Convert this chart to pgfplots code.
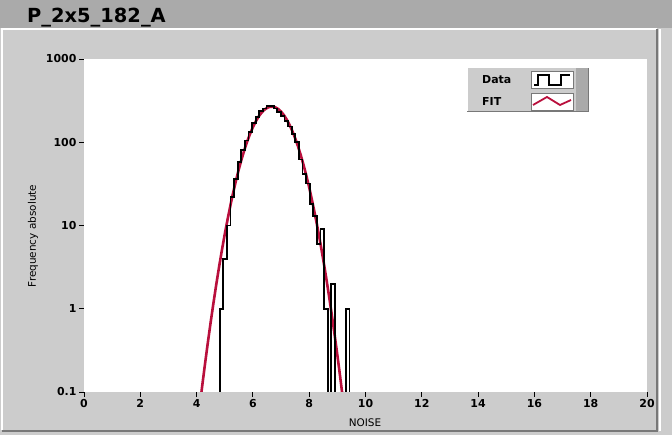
\documentclass[border=0pt]{standalone}
\usepackage{fontspec}
\setmainfont{DejaVu Sans}
\usepackage{pgfplots}
\pgfplotsset{compat=1.18}
\definecolor{panelgray}{RGB}{204,204,204}
\definecolor{bargray}{RGB}{170,170,170}
\definecolor{fitred}{RGB}{185,15,60}
\definecolor{darkedge}{RGB}{120,120,120}
\begin{document}
\begin{tikzpicture}[x=1bp,y=1bp]
\useasboundingbox (0,0) rectangle (672,435);
\fill[panelgray] (0,0) rectangle (672,435);
\fill[bargray] (0,407) rectangle (672,435);
\node[anchor=base west, inner sep=0pt, font=\fontsize{19.5}{20}\selectfont\bfseries] at (27,412) {P\_2x5\_182\_A};
% panel edges
\draw[white, line width=1.5bp] (2,5) -- (2,406) -- (657,406);
\draw[darkedge, line width=1.5bp] (2,4) -- (657,4) -- (657,406);
\draw[white, line width=1.2bp] (660,4) -- (660,406);
\begin{axis}[
  at={(84bp,43bp)}, anchor=south west,
  width=563bp, height=333bp, scale only axis,
  xmin=0, xmax=20, ymin=0.1, ymax=1000, ymode=log,
  axis background/.style={fill=white},
  axis line style={draw=none},
  tick pos=left, tick align=outside,
  major tick length=5bp,
  every tick/.style={black, line width=0.9bp},
  minor tick num=0,
  xtick={0,2,4,6,8,10,12,14,16,18,20},
  xticklabels={0,2,4,6,8,10,12,14,16,18,20},
  ytick={0.1,1,10,100,1000},
  yticklabels={0.1,1,10,100,1000},
  yminorticks=false,
  /pgf/number format/assume math mode=true,
  tick label style={font=\fontsize{11}{11}\selectfont\bfseries},
  xticklabel style={yshift=1bp},
  yticklabel style={xshift=1bp},
  clip=true,
]
\addplot[fitred, line width=2.6bp, no markers] coordinates {
(4.1,0.0627)(4.2,0.119)(4.3,0.219)(4.4,0.394)(4.5,0.691)(4.6,1.18)(4.7,1.97)(4.8,3.21)(4.9,5.08)(5.0,7.86)(5.1,11.8)(5.2,17.4)(5.3,24.9)(5.4,34.8)(5.5,47.4)(5.6,62.9)(5.7,81.4)(5.8,102.8)(5.9,126.5)(6.0,151.8)(6.1,177.6)(6.2,202.6)(6.3,225.4)(6.4,244.4)(6.5,258.4)(6.6,266.3)(6.7,267.7)(6.8,262.3)(6.9,250.6)(7.0,233.5)(7.1,212.1)(7.2,187.8)(7.3,162.2)(7.4,136.5)(7.5,112.1)(7.6,89.7)(7.7,70.0)(7.8,53.2)(7.9,39.5)(8.0,28.6)(8.1,20.1)(8.2,13.8)(8.3,9.28)(8.4,6.06)(8.5,3.86)(8.6,2.40)(8.7,1.45)(8.8,0.858)(8.9,0.495)(9.0,0.278)(9.1,0.152)(9.2,0.0813)(9.3,0.0424)
};
\addplot[black, line width=1.8bp, const plot, no markers] coordinates {
(4.70,0.01)(4.820,1)(4.948,4)(5.076,10)(5.204,22)(5.332,36)(5.460,58)(5.588,80)(5.716,105)(5.844,132)(5.972,172)(6.100,200)(6.228,235)(6.356,255)(6.484,272)(6.612,270)(6.740,255)(6.868,232)(6.996,205)(7.124,180)(7.252,155)(7.380,125)(7.508,100)(7.636,62)(7.764,42)(7.892,32)(8.020,18)(8.148,13)(8.276,6)(8.404,9)(8.532,1)(8.660,0.01)(8.788,2)(8.916,0.01)(9.044,0.01)(9.172,0.01)(9.300,1)(9.428,0.01)(9.6,0.01)
};
\end{axis}
% axis labels
\node[font=\fontsize{10.5}{11}\selectfont] at (365,12) {NOISE};
\node[rotate=90, font=\fontsize{10.5}{11}\selectfont] at (33,199) {Frequency absolute};
% legend
\fill[panelgray] (467,323) rectangle (588,367);
\fill[bargray] (576,323) rectangle (588,367);
\draw[white, line width=1bp] (467,323) -- (467,367) -- (588,367);
\draw[darkedge, line width=1bp] (467,323) -- (588,323) -- (588,367);
\node[anchor=west, inner sep=0pt, font=\fontsize{11}{11}\selectfont\bfseries] at (482,355.5) {Data};
\node[anchor=west, inner sep=0pt, font=\fontsize{11}{11}\selectfont\bfseries] at (482,333) {FIT};
\filldraw[fill=white, draw=darkedge, line width=0.6bp] (531,347) rectangle (573,364);
\filldraw[fill=white, draw=darkedge, line width=0.6bp] (531,325) rectangle (573,342);
\draw[black, line width=1.3bp] (534,350) -- (538,350) -- (538,360) -- (549,360) -- (549,350) -- (561,350) -- (561,360) -- (570,360);
\draw[fitred, line width=1.8bp] (533,330) -- (547,338) -- (560,330) -- (571,335);
\end{tikzpicture}
\end{document}
